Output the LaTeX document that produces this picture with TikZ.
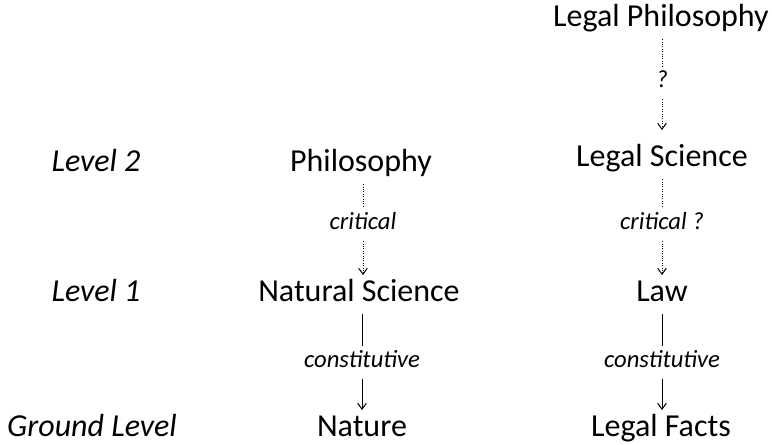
\documentclass[tikz,border=0pt]{standalone}
\usepackage{fontspec}
\setmainfont{Carlito}
\usetikzlibrary{arrows.meta}
\begin{document}
\begin{tikzpicture}[x=0.75pt,y=-0.75pt,
  concept/.style={font=\fontsize{24}{29}\selectfont, inner sep=0pt,
    text height=20pt, text depth=9pt, anchor=base},
  level/.style={concept, font=\fontsize{24}{29}\selectfont\itshape},
  rel/.style={font=\fontsize{18.5}{22}\selectfont\itshape, inner sep=0pt,
    text height=16.5pt, text depth=8.25pt, anchor=base},
  solidlink/.style={line width=0.75pt},
  dotlink/.style={line width=0.7pt, dash pattern=on 0.7pt off 1.1pt},
  tip/.style={-{Straight Barb[length=4.5pt,width=6.5pt,line width=0.75pt]}}
]
\useasboundingbox (0,0) rectangle (772,445);

% level captions
\node[level] (lv2) at (96,172) {Level 2};
\node[level] (lv1) at (96,302) {Level 1};
\node[level] (lv0) at (92,437) {Ground Level};

% natural column
\node[concept] (phil)   at (361,172) {Philosophy};
\node[rel]     (critL)  at (363,230) {critical};
\node[concept] (natsci) at (359,302) {Natural Science};
\node[rel]     (consL)  at (362,368) {constitutive};
\node[concept] (nature) at (362,437) {Nature};

% legal column
\node[concept] (lphil)  at (661,27)  {Legal Philosophy};
\node[rel]     (qR)     at (662,88)  {?};
\node[concept] (lsci)   at (662,167) {Legal Science};
\node[rel]     (critR)  at (662,230) {critical ?};
\node[concept] (law)    at (662,302) {Law};
\node[rel]     (consR)  at (662,368) {constitutive};
\node[concept] (lfacts) at (661,437) {Legal Facts};

% natural column connectors
\draw[dotlink] (phil.south -| critL) -- (critL.north);
\draw[dotlink,tip] (critL.south) -- (critL.south |- natsci.north);
\draw[solidlink] (natsci.south -| consL) -- (consL.north);
\draw[solidlink,tip] (consL.south) -- (consL.south |- nature.north);

% legal column connectors
\draw[dotlink] (lphil.south -| qR) -- (qR.north);
\draw[dotlink,tip,shorten >=7.5pt] (qR.south) -- (qR.south |- lsci.north);
\draw[dotlink] (lsci.south -| critR) -- (critR.north);
\draw[dotlink,tip] (critR.south) -- (critR.south |- law.north);
\draw[solidlink] (law.south -| consR) -- (consR.north);
\draw[solidlink,tip] (consR.south) -- (consR.south |- lfacts.north);
\end{tikzpicture}
\end{document}
